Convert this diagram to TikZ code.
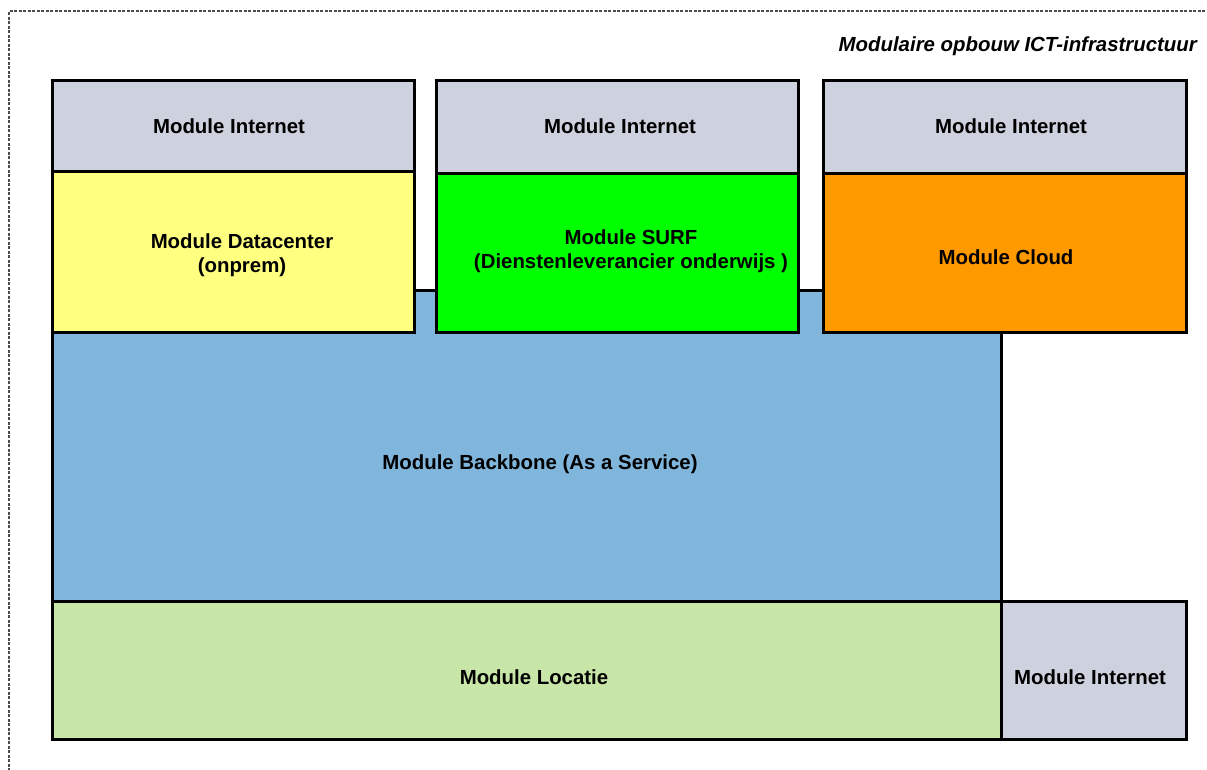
\documentclass[tikz,border=0pt]{standalone}
\usepackage{fontspec}
\setmainfont{Liberation Sans}
\definecolor{cinet}{HTML}{CED2DE}
\definecolor{cdc}{HTML}{FFFF80}
\definecolor{csurf}{HTML}{00FF00}
\definecolor{ccloud}{HTML}{FF9900}
\definecolor{cbb}{HTML}{80B5DC}
\definecolor{cloc}{HTML}{C9E6A9}
\begin{document}
\begin{tikzpicture}[x=1pt,y=-1pt,
  modbox/.style={draw=black,line width=3pt},
  lbl/.style={font=\fontsize{20.4}{24}\selectfont\bfseries,align=center,inner sep=0pt}]
\useasboundingbox (0,0) rectangle (1207,769);
\draw[gray!60!black,line width=1.2pt,dash pattern=on 3pt off 1.5pt] (9,771) -- (9,11) -- (1210,11);
\node[lbl,anchor=east,font=\fontsize{20.4}{24}\selectfont\bfseries\itshape] (title) at (1197,46) {Modulaire opbouw ICT-infrastructuur};
% backbone behind
\filldraw[modbox,fill=cbb] (52,290) rectangle (1001,601);
\coordinate (bb) at (540,464);
% top row
\filldraw[modbox,fill=cinet] (52,80) rectangle (414,171);
\filldraw[modbox,fill=cdc] (52,171) rectangle (414,332);
\filldraw[modbox,fill=cinet] (436,80) rectangle (798,173);
\filldraw[modbox,fill=csurf] (436,173) rectangle (798,332);
\filldraw[modbox,fill=cinet] (823,80) rectangle (1186,173);
\filldraw[modbox,fill=ccloud] (823,173) rectangle (1186,332);
% bottom row
\filldraw[modbox,fill=cloc] (52,601) rectangle (1001,739);
\filldraw[modbox,fill=cinet] (1001,601) rectangle (1186,739);
% labels
\node[lbl] (i1) at (229,126) {Module Internet};
\node[lbl] (i2) at (620,126) {Module Internet};
\node[lbl] (i3) at (1011,126) {Module Internet};
\node[lbl] (dc) at (242,255) {Module Datacenter\\(onprem)};
\node[lbl] (surf) at (631,251) {Module SURF\\(Dienstenleverancier onderwijs )};
\node[lbl] (cloud) at (1006,257) {Module Cloud};
\node[lbl] (bbl) at (bb) {Module Backbone (As a Service)};
\node[lbl] (loc) at (534,677) {Module Locatie};
\node[lbl] (i4) at (1090,677) {Module Internet};
\end{tikzpicture}
\end{document}
